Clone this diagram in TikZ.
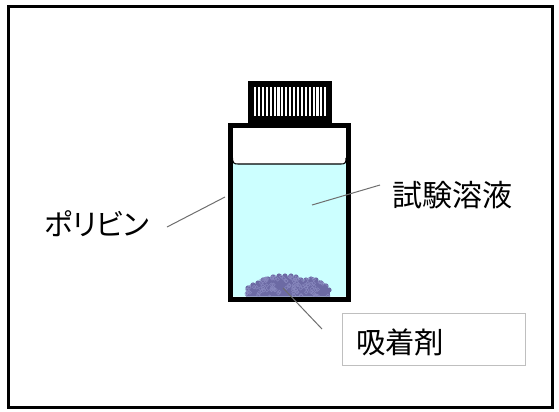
\documentclass[tikz,border=0pt]{standalone}
\usepackage{fontspec}
\newfontfamily\jpfont{Noto Sans CJK JP}
\newfontfamily\jpkana[RawFeature=+palt]{Noto Sans CJK JP}
\definecolor{liquid}{RGB}{204,255,255}
\definecolor{adsorb}{RGB}{108,106,164}
\definecolor{adsorbhi}{RGB}{136,136,190}
\definecolor{leadergray}{RGB}{110,110,110}
\definecolor{boxgray}{RGB}{191,191,191}
\begin{document}
\begin{tikzpicture}[x=0.75pt,y=-0.75pt,
  leader/.style={draw=leadergray, line width=0.75pt},
  jplabel/.style={inner sep=0pt, anchor=west}]
\useasboundingbox (0,0) rectangle (559,411);
% outer frame
\draw[line width=2.25pt] (8,6) rectangle (552,407);

% liquid with meniscus
\fill[liquid] (232.5,296.5) -- (232.5,158) .. controls (232.5,163) and (234,164) .. (238,164)
  -- (341,164) .. controls (345,164) and (346,163) .. (346,158) -- (346,296.5) -- cycle;
\draw[line width=0.8pt] (232.5,158) .. controls (232.5,163) and (234,164) .. (238,164)
  -- (341,164) .. controls (345,164) and (346,163) .. (346,158);

% adsorbent heap at the bottom
\fill[adsorb] plot[smooth] coordinates {(246,296.5) (247,289) (255,284) (265,279) (280,276)
  (295,277) (303,281) (312,279) (322,283) (329,289) (330,296.5)} -- cycle;
\foreach \px/\py in {248/288,253/285,258/283,263/280,268/279,273/277,279/276,285/276,
  291/276,296/277,301/280,306/280,311/279,316/280,321/283,326/286,329/290}
  \fill[adsorb] (\px,\py) circle (2.6);
\begin{scope}
  \clip plot[smooth] coordinates {(245,296.5) (246,288) (255,282) (265,277) (280,274)
    (295,275) (303,279) (312,277) (322,281) (330,288) (331,296.5)} -- cycle;
  \pgfmathsetseed{11}
  \foreach \i in {1,...,120} {
    \pgfmathsetmacro\cx{246+84*rnd}
    \pgfmathsetmacro\cy{274+23*rnd}
    \draw[adsorbhi, line width=0.4pt] (\cx,\cy) circle (1.8);
  }
\end{scope}

% bottle wall
\draw[line width=3.75pt] (230,125.5) rectangle (348.5,299);

% screw cap
\fill (248,81) rectangle (332,123);
\foreach \k in {0,...,18}
  \fill[white] ({254+\k*3.9},87) rectangle ({256.1+\k*3.9},116);

% labels
\node[jplabel, font=\jpkana\fontsize{22}{26}\selectfont] (pb) at (44,224) {ポリビン};
\node[jplabel, font=\jpfont\fontsize{22.5}{27}\selectfont] (ts) at (392,195) {試験溶液};
\node[draw=boxgray, line width=0.75pt, minimum width=183*0.75pt, minimum height=52*0.75pt,
  inner sep=0pt] (boxad) at (433.5,339) {};
\node[jplabel, font=\jpfont\fontsize{22}{26}\selectfont] (ad) at (356,342) {吸着剤};

% leader lines
\coordinate (pbA) at (167,227);
\coordinate (pbB) at (225,197);
\coordinate (tsA) at (312,205);
\coordinate (tsB) at (380,185);
\coordinate (adA) at (283,288);
\coordinate (adB) at (322,329);
\draw[leader] (pbA) -- (pbB);
\draw[leader] (tsA) -- (tsB);
\draw[leader] (adA) -- (adB);
\end{tikzpicture}
\end{document}
